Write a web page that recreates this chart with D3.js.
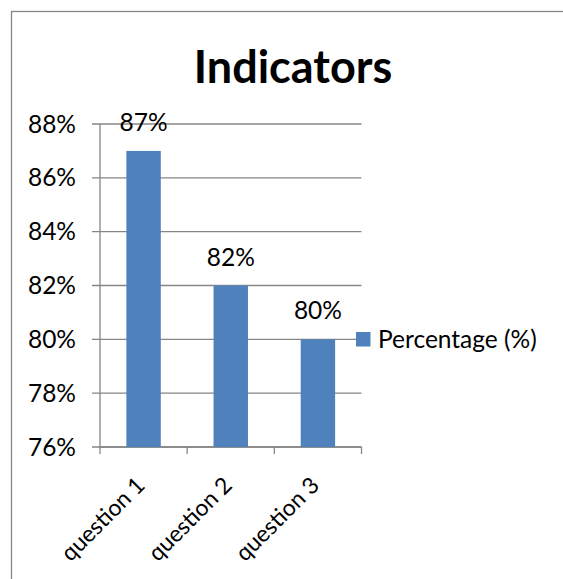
<!DOCTYPE html>
<html>
<head>
<meta charset="utf-8">
<script src="https://cdn.jsdelivr.net/npm/d3@7"></script>
<style>
  body { margin: 0; background: #fff; }
  svg { display: block; }
  text { font-family: Lato, "Open Sans", sans-serif; fill: #000; }
</style>
</head>
<body>
<svg id="chart" width="563" height="579"></svg>
<script>
// data
var categories = ["question 1", "question 2", "question 3"];
var values = [0.87, 0.82, 0.80];
var yTicks = [0.76, 0.78, 0.80, 0.82, 0.84, 0.86, 0.88];
var seriesName = "Percentage (%)";
var title = "Indicators";

var svg = d3.select("#chart");
var barColor = "#4F81BD",
    gridColor = "#868686",
    fontSize = "24.5px";

// chart border (only top/left show in the crop)
svg.append("rect")
  .attr("x", 11.5).attr("y", 11.5)
  .attr("width", 700).attr("height", 700)
  .style("fill", "none")
  .style("stroke", gridColor)
  .style("stroke-width", 1.3);

var xScale = d3.scaleBand()
  .domain(categories)
  .range([100, 361.5])
  .padding(0);

var yScale = d3.scaleLinear()
  .domain([0.76, 0.88])
  .range([447, 124]);

var fmt = d3.format(".0%");

// gridlines + left ticks
svg.append("g")
  .selectAll("line")
  .data(yTicks)
  .enter()
  .append("line")
  .attr("x1", 92)
  .attr("x2", 361.5)
  .attr("y1", function(d){ return yScale(d); })
  .attr("y2", function(d){ return yScale(d); })
  .style("stroke", gridColor)
  .style("stroke-width", 1.3);

// y tick labels
svg.append("g")
  .selectAll("text")
  .data(yTicks)
  .enter()
  .append("text")
  .attr("x", 76)
  .attr("y", function(d){ return yScale(d); })
  .attr("dy", "0.35em")
  .attr("text-anchor", "end")
  .style("font-size", fontSize)
  .text(fmt);

// y axis line
svg.append("line")
  .attr("x1", 100).attr("x2", 100)
  .attr("y1", yScale(0.88)).attr("y2", yScale(0.76))
  .style("stroke", gridColor)
  .style("stroke-width", 1.3);

// x axis line and ticks between categories
var bounds = categories.map(function(c){ return xScale(c); }).concat([xScale.range()[1]]);
svg.append("line")
  .attr("x1", 100).attr("x2", xScale.range()[1])
  .attr("y1", yScale(0.76)).attr("y2", yScale(0.76))
  .style("stroke", gridColor)
  .style("stroke-width", 1.3);
svg.append("g")
  .selectAll("line")
  .data(bounds)
  .enter()
  .append("line")
  .attr("x1", function(d){ return d; })
  .attr("x2", function(d){ return d; })
  .attr("y1", yScale(0.76))
  .attr("y2", yScale(0.76) + 7)
  .style("stroke", gridColor)
  .style("stroke-width", 1.3);

// bars
var barW = xScale.bandwidth() * 0.395;
svg.append("g")
  .selectAll("rect")
  .data(values)
  .enter()
  .append("rect")
  .attr("x", function(d, i){ return xScale(categories[i]) + (xScale.bandwidth() - barW) / 2; })
  .attr("y", function(d){ return yScale(d); })
  .attr("width", barW)
  .attr("height", function(d){ return yScale(0.76) - yScale(d); })
  .style("fill", barColor);

// data labels
svg.append("g")
  .selectAll("text")
  .data(values)
  .enter()
  .append("text")
  .attr("x", function(d, i){ return xScale(categories[i]) + xScale.bandwidth() / 2; })
  .attr("y", function(d){ return yScale(d) - 20; })
  .attr("text-anchor", "middle")
  .style("font-size", fontSize)
  .text(fmt);

// rotated category labels
svg.append("g")
  .selectAll("text")
  .data(categories)
  .enter()
  .append("text")
  .attr("text-anchor", "end")
  .attr("transform", function(d){
    var cx = xScale(d) + xScale.bandwidth() / 2 - 3;
    return "translate(" + cx + "," + (yScale(0.76) + 34) + ")rotate(-45)";
  })
  .attr("dy", "0.35em")
  .style("font-size", "23px")
  .text(function(d){ return d; });

// legend
svg.append("rect")
  .attr("x", 356).attr("y", 332)
  .attr("width", 14.5).attr("height", 14.5)
  .style("fill", barColor);
svg.append("text")
  .attr("x", 378).attr("y", 339)
  .attr("dy", "0.35em")
  .style("font-size", fontSize)
  .text(seriesName);

// title
svg.append("text")
  .attr("x", 293).attr("y", 83)
  .attr("text-anchor", "middle")
  .style("font-size", "45px")
  .style("font-weight", "bold")
  .text(title);
</script>
</body>
</html>
